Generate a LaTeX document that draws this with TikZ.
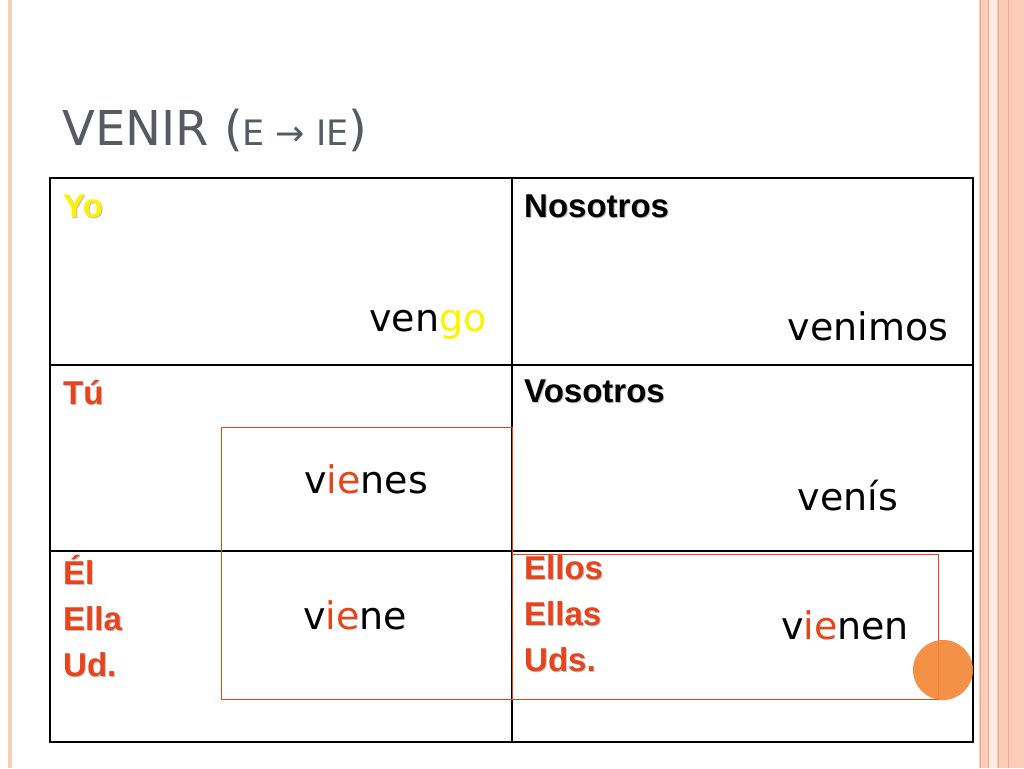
\documentclass[tikz,border=0pt]{standalone}
\usepackage{fontspec}
\setmainfont{Liberation Sans}
\newfontfamily\verbf{DejaVu Sans}
\definecolor{peach}{HTML}{FBCDB8}
\definecolor{peachline}{HTML}{F2A88A}
\definecolor{redo}{HTML}{E8431A}
\definecolor{orng}{HTML}{F58634}
\definecolor{ttl}{HTML}{555A63}
\newcommand{\shd}[2]{\makebox[0pt][l]{\raisebox{-1pt}{\hspace{1pt}\textcolor{gray!50}{#2}}}\textcolor{#1}{#2}}
\begin{document}
\begin{tikzpicture}[x=1pt,y=-1pt,
  lab/.style={anchor=north west,font=\bfseries\fontsize{33}{46}\selectfont,align=left,inner sep=0pt},
  vb/.style={anchor=base,font=\verbf\fontsize{38}{42}\selectfont,inner sep=0pt},
  ring/.style={color=redo,draw=redo,line width=0.8pt}]
\useasboundingbox (0,0) rectangle (1024,768);
\fill[white] (0,0) rectangle (1024,768);
% side stripes
\fill[peach] (8,0) rectangle (12,768);
\fill[peach] (979,0) rectangle (1024,768);
\fill[white!60!peach] (988,0) rectangle (997,768);
\foreach \x in {980,988,998,1008}{\draw[peachline,line width=0.6pt] (\x,0) -- (\x,768);}
% title
\node[anchor=base west,text=ttl,font=\verbf\fontsize{48}{52}\selectfont,inner sep=0pt] (title) at (62,145) {VENIR ({\fontsize{35}{38}\selectfont E → IE})};
% table
\draw[black,line width=2.5pt] (50,178) rectangle (973,742);
\draw[black,line width=1.2pt] (512,178) -- (512,742);
\draw[black,line width=1.2pt] (50,365) -- (973,365);
\draw[black,line width=1.2pt] (50,551) -- (973,551);
% labels
\node[lab] (yo) at (63,195) {\shd{yellow}{Yo}};
\node[lab] (nos) at (524,195) {\shd{black}{Nosotros}};
\node[lab] (tu) at (63,380) {\shd{redo}{Tú}};
\node[lab] (vos) at (524,380) {\shd{black}{Vosotros}};
\node[lab] (el) at (63,555) {\shd{redo}{Él}\\\shd{redo}{Ella}\\\shd{redo}{Ud.}};
\node[lab] (ellos) at (524,555) {\shd{redo}{Ellos}\\\shd{redo}{Ellas}\\\shd{redo}{Uds.}};
% verbs
\node[vb,text=black] (v1) at (428,331) {ven\textcolor{yellow}{go}};
\node[vb,text=black] (v2) at (868,340) {venimos};
\node[vb,text=black] (v3) at (366,493) {v\textcolor{redo}{ie}nes};
\node[vb,text=black] (v4) at (848,510) {venís};
\node[vb,text=black] (v5) at (355,629) {v\textcolor{redo}{ie}ne};
\node[vb,text=black] (v6) at (845,639) {v\textcolor{redo}{ie}nen};
% red boxes
\draw[ring] (221,427) -- (512,427) -- (512,699) -- (221,699) -- cycle;
\draw[ring] (512,554) -- (938,554) -- (938,699) -- (512,699);
\fill[orng,opacity=0.9] (943,670) circle (30);
\end{tikzpicture}
\end{document}
